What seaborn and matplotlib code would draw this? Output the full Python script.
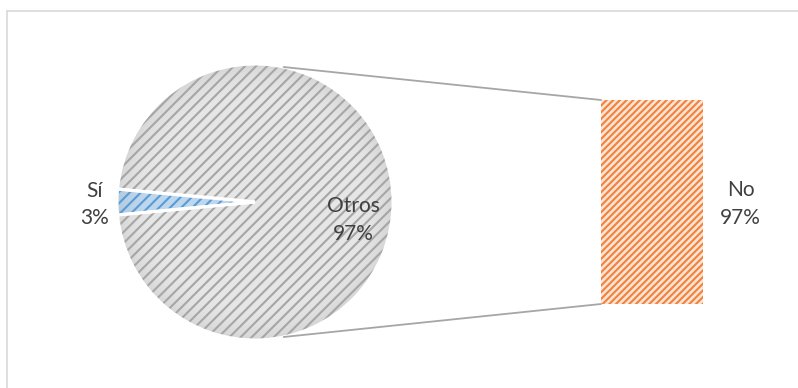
import matplotlib
matplotlib.use("Agg")
import matplotlib.pyplot as plt
from matplotlib.patches import ConnectionPatch, Circle
from matplotlib.lines import Line2D
import numpy as np
import pandas as pd
import seaborn as sns

# ---- data ----
pie_labels = ["Sí", "Otros"]
pie_values = [3, 97]
bar_labels = ["No"]
bar_values = [97]

sns.set_theme(style="white")
plt.rcParams['font.family'] = ['Lato', 'DejaVu Sans']
plt.rcParams['hatch.linewidth'] = 1.5

W, H = 798, 388
fig = plt.figure(figsize=(W / 100, H / 100), dpi=100)
fig.patch.set_facecolor("white")

# frame (top and left lines of the chart area)
fig.add_artist(Line2D([7 / W, 7 / W], [0, 1 - 11 / H], transform=fig.transFigure,
                      color="#d9d9d9", lw=1.2))
fig.add_artist(Line2D([7 / W, 1], [1 - 11 / H, 1 - 11 / H], transform=fig.transFigure,
                      color="#d9d9d9", lw=1.2))

text_color = "#404040"
face_colors = ["#bdd7ee", "#e6e6e6"]
hatch_colors = ["#5b9bd5", "#a6a6a6"]

# ---- pie ----
cx, cy, r = 255, 202, 138
ax_pie = fig.add_axes([(cx - r) / W, (H - cy - r) / H, 2 * r / W, 2 * r / H])
start = 180 - pie_values[0] / sum(pie_values) * 360 / 2

w_fill, _ = ax_pie.pie(pie_values, startangle=start, colors=face_colors, radius=1,
                       wedgeprops=dict(linewidth=0))
# soft edge shading
g = np.linspace(-1, 1, 300)
gx, gy = np.meshgrid(g, g)
rr = np.sqrt(gx ** 2 + gy ** 2)
shade = np.zeros((300, 300, 4))
shade[..., :3] = 0.55
shade[..., 3] = np.clip((rr - 0.75) / 0.25, 0, 1) ** 2 * 0.18
im = ax_pie.imshow(shade, extent=(-1, 1, -1, 1), origin="lower", zorder=1.5)
im.set_clip_path(Circle((0, 0), 1, transform=ax_pie.transData))

w_hatch, _ = ax_pie.pie(pie_values, startangle=start, colors=["none", "none"], radius=1,
                        wedgeprops=dict(linewidth=0))
for w, hc in zip(w_hatch, hatch_colors):
    w.set_facecolor("none")
    w.set_edgecolor(hc)
    w.set_linewidth(0)
    w.set_hatch("///")
    w.set_zorder(2)
w_edge, _ = ax_pie.pie(pie_values, startangle=start, colors=["none", "none"], radius=1,
                       wedgeprops=dict(linewidth=2.2, edgecolor="white", facecolor="none"))
for w in w_edge:
    w.set_zorder(3)
ax_pie.set_xlim(-1, 1)
ax_pie.set_ylim(-1, 1)
ax_pie.set_aspect("equal")
ax_pie.axis("off")

total = sum(pie_values)
fs = 15
ax_pie.text(-1.16, -0.02, f"{pie_labels[0]}\n{round(pie_values[0] / total * 100)}%",
            ha="center", va="center", fontsize=fs, color=text_color, linespacing=1.45,
            zorder=4)
ax_pie.text(0.71, -0.13, f"{pie_labels[1]}\n{round(pie_values[1] / total * 100)}%",
            ha="center", va="center", fontsize=fs, color=text_color, linespacing=1.45,
            zorder=4)

# ---- bar ----
bx0, bx1, by0, by1 = 601, 703, 100, 304
ax_bar = fig.add_axes([bx0 / W, (H - by1) / H, (bx1 - bx0) / W, (by1 - by0) / H])
df = pd.DataFrame({"label": bar_labels, "value": bar_values})
sns.barplot(data=df, x="label", y="value", ax=ax_bar, width=1.0, color="#fde4d2")
for p in ax_bar.patches:
    p.set_facecolor("#fde4d2")
    p.set_edgecolor("#f0823e")
    p.set_linewidth(0)
    p.set_hatch("/////")
ax_bar.set_xlim(-0.5, 0.5)
ax_bar.set_ylim(0, bar_values[0])
ax_bar.axis("off")
ax_bar.text(1.37, 0.49, f"{bar_labels[0]}\n{bar_values[0]}%", transform=ax_bar.transAxes,
            ha="center", va="center", fontsize=fs, color=text_color, linespacing=1.45)

# ---- connector lines ----
ang = np.deg2rad(78)
for sgn, ybar in [(1, bar_values[0]), (-1, 0)]:
    con = ConnectionPatch(xyA=(np.cos(ang), sgn * np.sin(ang)), coordsA=ax_pie.transData,
                          xyB=(-0.5, ybar), coordsB=ax_bar.transData,
                          color="#a6a6a6", lw=1.3)
    fig.add_artist(con)

fig.savefig("out.png", dpi=100, facecolor="white")
